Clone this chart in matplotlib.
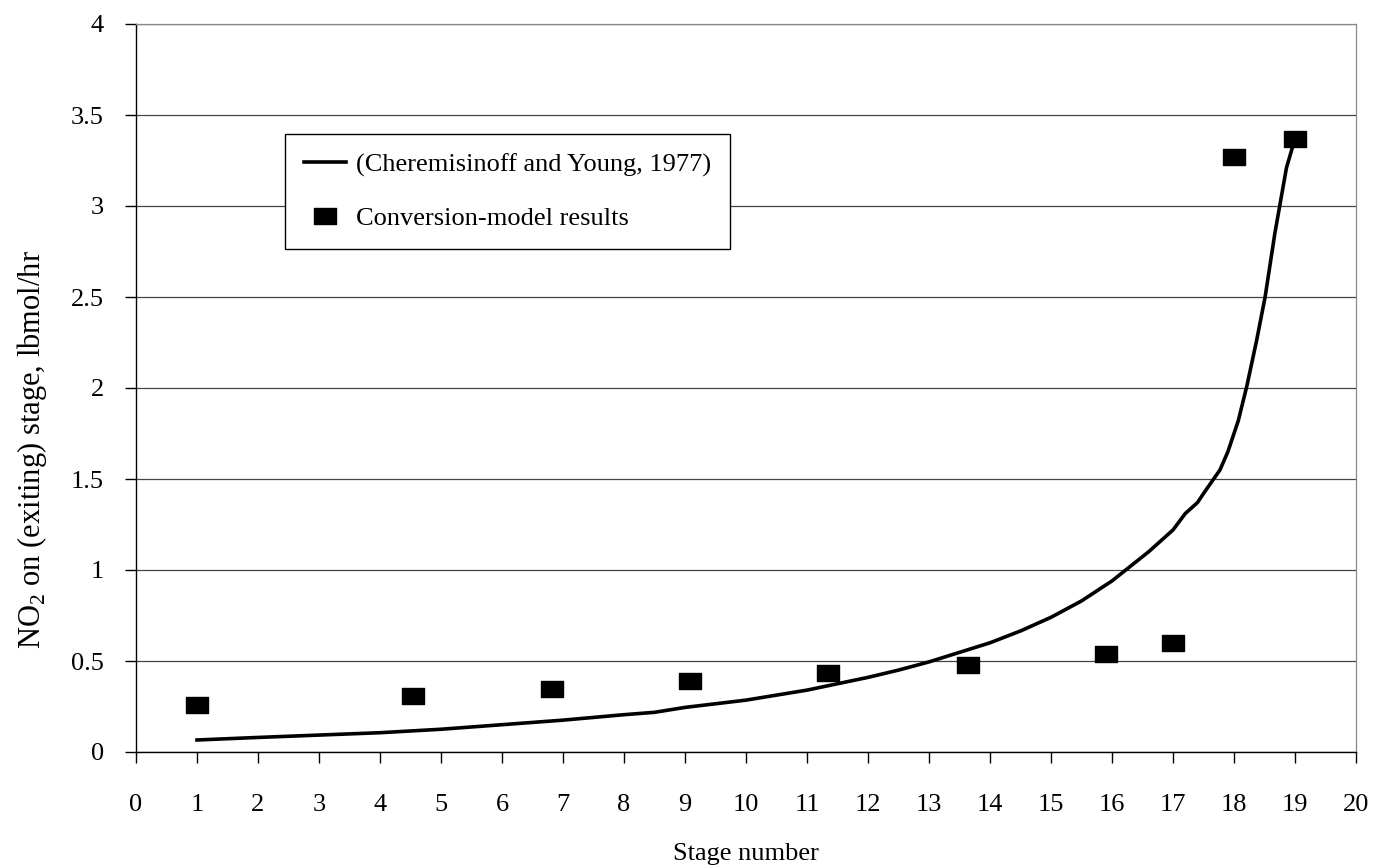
import matplotlib.pyplot as plt
from matplotlib.path import Path
import numpy as np

plt.rcParams['font.family'] = ['Liberation Serif', 'DejaVu Serif']
plt.rcParams['mathtext.fontset'] = 'custom'
plt.rcParams['mathtext.rm'] = 'Liberation Serif'

# curve (Cheremisinoff and Young, 1977)
curve_stage = [1, 2, 3, 4, 5, 6, 7, 8, 8.5, 9, 10, 11, 12, 12.5, 13, 14, 14.5,
               15, 15.5, 16, 16.6, 17, 17.2, 17.4, 17.5, 17.77, 17.9, 18.07,
               18.21, 18.37, 18.51, 18.67, 18.86, 19]
curve_no2 = [0.066, 0.08, 0.093, 0.106, 0.125, 0.15, 0.175, 0.205, 0.218, 0.245,
             0.285, 0.34, 0.41, 0.45, 0.495, 0.6, 0.665, 0.74, 0.83, 0.94, 1.1,
             1.22, 1.31, 1.37, 1.42, 1.55, 1.65, 1.82, 2.01, 2.26, 2.5, 2.85,
             3.21, 3.37]

# conversion-model results
model_stage = [1.0, 4.54, 6.82, 9.08, 11.34, 13.64, 15.9, 17.0, 18.0, 19.0]
model_no2 = [0.26, 0.31, 0.346, 0.39, 0.434, 0.48, 0.54, 0.60, 3.27, 3.37]

xticks = list(range(0, 21))
yticks = [0, 0.5, 1, 1.5, 2, 2.5, 3, 3.5, 4]
ytick_labels = ['0', '0.5', '1', '1.5', '2', '2.5', '3', '3.5', '4']

# wide flat square marker
box = Path([(-1, -0.72), (1, -0.72), (1, 0.72), (-1, 0.72), (-1, -0.72)],
           [Path.MOVETO, Path.LINETO, Path.LINETO, Path.LINETO, Path.CLOSEPOLY])

fig = plt.figure(figsize=(13.76, 8.66), dpi=100)
ax = fig.add_axes([136 / 1376, 1 - 752 / 866, 1220 / 1376, 728 / 866])

ax.plot(curve_stage, curve_no2, color='black', lw=2.6,
        label='(Cheremisinoff and Young, 1977)', zorder=3)
ax.plot(model_stage, model_no2, linestyle='none', marker=box, markersize=16,
        color='black', label='Conversion-model results', zorder=4)

ax.set_xlim(0, 20)
ax.set_ylim(0, 4)
ax.set_xticks(xticks)
ax.set_yticks(yticks)
ax.set_yticklabels(ytick_labels)
ax.yaxis.grid(True, color='#444444', lw=0.9)
ax.set_axisbelow(True)

for s in ['top', 'right']:
    ax.spines[s].set_color('#888888')
    ax.spines[s].set_linewidth(0.9)
for s in ['left', 'bottom']:
    ax.spines[s].set_color('black')
    ax.spines[s].set_linewidth(1.0)

ax.tick_params(axis='x', direction='out', length=8, width=1, pad=22, labelsize=19)
ax.tick_params(axis='y', direction='out', length=8, width=1, pad=15, labelsize=19)

ax.set_xlabel('Stage number', fontsize=19, labelpad=19.5)
ax.set_ylabel(r'NO$_2$ on (exiting) stage, lbmol/hr', fontsize=22)
ax.yaxis.set_label_coords(-0.071, 0.415)

leg = ax.legend(loc='upper left', bbox_to_anchor=(0.122, 0.849), fontsize=19,
                frameon=True, fancybox=False, handlelength=1.6, handletextpad=0.38,
                borderpad=0.72, labelspacing=1.12, borderaxespad=0)
leg.get_frame().set_edgecolor('black')
leg.get_frame().set_linewidth(1.0)
leg.get_frame().set_alpha(1)

fig.savefig('out.png', dpi=100)
